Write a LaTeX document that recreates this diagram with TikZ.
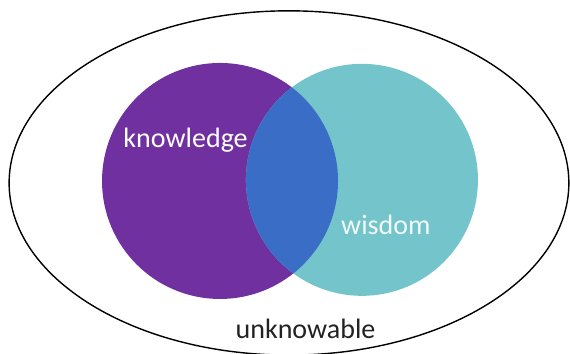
\documentclass[tikz,border=0pt]{standalone}
\usepackage{fontspec}
\setmainfont{Carlito}
\usetikzlibrary{shapes.geometric}

\definecolor{knowpurple}{HTML}{7030A0}
\definecolor{wisecyan}{HTML}{74C4CC}
\definecolor{bothblue}{HTML}{3A6EC6}
\definecolor{darktext}{HTML}{222222}

\begin{document}
\begin{tikzpicture}[
    set/.style={circle, inner sep=0pt, minimum size=#1},
    word/.style={font=\fontsize{28}{32}\selectfont, anchor=base, inner sep=0pt}
]
\useasboundingbox (0,0) rectangle (20,12.42);

% the whole space
\node[ellipse, draw, line width=1.4pt, inner sep=0pt,
      minimum width=19.64cm, minimum height=12.08cm] (space) at (10.14,6.00) {};

% two overlapping sets
\node[set=8.28cm, fill=knowpurple] (know) at (7.72,6.07) {};
\node[set=8.14cm, fill=wisecyan] (wise) at (12.70,6.11) {};

% overlap of both sets
\begin{scope}
    \clip (know.center) circle (4.14);
    \fill[bothblue] (wise.center) circle (4.07);
\end{scope}

% labels
\node[word, white] (knowtext) at (6.51,7.23) {knowledge};
\node[word, white!90!wisecyan] (wisetext) at (13.54,4.18) {wisdom};
\node[word, darktext] (unknowtext) at (10.72,0.56) {unknowable};

\end{tikzpicture}
\end{document}
